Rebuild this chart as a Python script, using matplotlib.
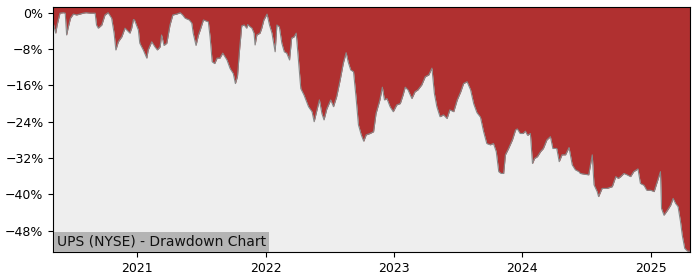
import matplotlib
matplotlib.use("Agg")
import matplotlib.pyplot as plt
import matplotlib.dates as mdates
from matplotlib.ticker import MultipleLocator, PercentFormatter
import pandas as pd

title = "UPS (NYSE) - Drawdown Chart"

dates = [
    "2020-05-07", "2020-05-14", "2020-05-18", "2020-05-26", "2020-06-05", "2020-06-10",
    "2020-06-14", "2020-06-18", "2020-06-25", "2020-07-03", "2020-07-12", "2020-07-22",
    "2020-07-31", "2020-08-08", "2020-08-19", "2020-09-03", "2020-09-07", "2020-09-12",
    "2020-09-22", "2020-10-01", "2020-10-10", "2020-10-20", "2020-10-27", "2020-11-01",
    "2020-11-08", "2020-11-18", "2020-11-27", "2020-12-02", "2020-12-11", "2020-12-16",
    "2020-12-21", "2020-12-24", "2021-01-04", "2021-01-08", "2021-01-18", "2021-01-28",
    "2021-02-01", "2021-02-11", "2021-02-20", "2021-02-27", "2021-03-07", "2021-03-11",
    "2021-03-18", "2021-03-26", "2021-04-04", "2021-04-12", "2021-04-23", "2021-05-03",
    "2021-05-10", "2021-05-17", "2021-05-29", "2021-06-05", "2021-06-09", "2021-06-17",
    "2021-06-24", "2021-06-29", "2021-07-08", "2021-07-22", "2021-07-27", "2021-08-02",
    "2021-08-09", "2021-08-16", "2021-08-24", "2021-09-01", "2021-09-13", "2021-09-22",
    "2021-10-01", "2021-10-07", "2021-10-13", "2021-10-18", "2021-10-25", "2021-11-01",
    "2021-11-08", "2021-11-11", "2021-11-18", "2021-11-23", "2021-11-29", "2021-12-02",
    "2021-12-07", "2021-12-16", "2021-12-21", "2021-12-27", "2022-01-05", "2022-01-12",
    "2022-01-19", "2022-01-24", "2022-01-28", "2022-02-02", "2022-02-09", "2022-02-16",
    "2022-02-23", "2022-03-02", "2022-03-10", "2022-03-16", "2022-03-23", "2022-03-29",
    "2022-04-04", "2022-04-11", "2022-04-20", "2022-05-03", "2022-05-13", "2022-05-19",
    "2022-05-27", "2022-06-03", "2022-06-10", "2022-06-16", "2022-06-24", "2022-07-05",
    "2022-07-13", "2022-07-22", "2022-08-01", "2022-08-10", "2022-08-18", "2022-08-24",
    "2022-08-31", "2022-09-08", "2022-09-15", "2022-09-22", "2022-09-30", "2022-10-07",
    "2022-10-14", "2022-10-25", "2022-11-04", "2022-11-11", "2022-11-22", "2022-11-29",
    "2022-12-05", "2022-12-12", "2022-12-21", "2022-12-30", "2023-01-09", "2023-01-19",
    "2023-01-27", "2023-02-02", "2023-02-10", "2023-02-21", "2023-03-02", "2023-03-10",
    "2023-03-21", "2023-03-31", "2023-04-10", "2023-04-19", "2023-04-26", "2023-05-03",
    "2023-05-12", "2023-05-22", "2023-06-01", "2023-06-09", "2023-06-20", "2023-06-30",
    "2023-07-10", "2023-07-18", "2023-07-28", "2023-08-07", "2023-08-16", "2023-08-25",
    "2023-09-04", "2023-09-13", "2023-09-22", "2023-10-02", "2023-10-11", "2023-10-19",
    "2023-10-26", "2023-11-02", "2023-11-09", "2023-11-14", "2023-11-23", "2023-12-04",
    "2023-12-13", "2023-12-18", "2023-12-26", "2024-01-03", "2024-01-10", "2024-01-16",
    "2024-01-24", "2024-01-30", "2024-02-05", "2024-02-13", "2024-02-22", "2024-03-01",
    "2024-03-11", "2024-03-21", "2024-03-28", "2024-04-08", "2024-04-15", "2024-04-23",
    "2024-05-03", "2024-05-13", "2024-05-22", "2024-05-31", "2024-06-10", "2024-06-14",
    "2024-06-28", "2024-07-08", "2024-07-18", "2024-07-23", "2024-08-01", "2024-08-05",
    "2024-08-15", "2024-08-29", "2024-09-13", "2024-09-23", "2024-09-30", "2024-10-07",
    "2024-10-16", "2024-10-25", "2024-11-04", "2024-11-13", "2024-11-25", "2024-12-02",
    "2024-12-12", "2024-12-20", "2024-12-31", "2025-01-10", "2025-01-28", "2025-01-31",
    "2025-02-07", "2025-02-17", "2025-02-26", "2025-03-05", "2025-03-12", "2025-03-19",
    "2025-03-26", "2025-03-31", "2025-04-07", "2025-04-15", "2025-04-22",
]

drawdown_pct = [
    -2.3, -4.5, -2.7, -0.1, 0.0, -0.1,
    -4.9, -3.4, -1.2, -0.3, -0.5, -0.3,
    -0.1, 0.0, -0.1, -0.1, -2.7, -3.4,
    -2.7, -0.5, 0.0, -1.2, -4.5, -8.2,
    -6.4, -5.3, -3.4, -3.8, -4.5, -3.4,
    -1.5, -1.6, -3.8, -6.7, -8.2, -10.0,
    -8.2, -6.4, -7.5, -8.2, -7.5, -4.9,
    -7.2, -6.7, -2.7, -0.5, -0.3, 0.0,
    -0.5, -1.2, -1.6, -2.3, -4.5, -7.2,
    -4.9, -3.8, -1.6, -2.0, -5.3, -10.8,
    -11.2, -10.0, -10.0, -8.9, -10.4, -12.3,
    -13.4, -15.6, -14.0, -8.9, -2.9, -2.7,
    -3.4, -2.6, -3.1, -3.4, -4.5, -7.1,
    -4.9, -4.5, -3.4, -1.6, -0.3, -2.7,
    -4.5, -6.7, -8.6, -2.7, -3.1, -6.7,
    -8.6, -8.9, -10.4, -5.6, -5.3, -4.5,
    -10.0, -16.7, -18.1, -20.7, -21.8, -24.0,
    -21.4, -19.2, -22.2, -23.6, -21.2, -19.2,
    -20.7, -18.5, -14.8, -11.1, -8.8, -10.9,
    -12.6, -13.0, -18.5, -24.7, -26.9, -28.3,
    -26.9, -26.6, -26.2, -22.2, -19.2, -16.4,
    -19.2, -18.9, -20.7, -21.8, -20.3, -20.0,
    -18.1, -16.4, -17.0, -18.9, -17.4, -17.0,
    -15.9, -14.1, -13.7, -12.2, -17.8, -20.7,
    -22.9, -22.5, -23.3, -21.4, -21.8, -19.2,
    -17.4, -15.6, -15.2, -17.0, -20.1, -22.0,
    -23.0, -26.2, -28.8, -29.1, -28.8, -30.6,
    -35.0, -35.4, -35.4, -31.3, -29.9, -28.0,
    -25.8, -25.6, -26.6, -26.6, -26.1, -27.0,
    -26.6, -33.2, -32.1, -31.7, -30.6, -29.9,
    -28.0, -27.3, -29.9, -29.9, -32.8, -31.3,
    -31.3, -29.7, -33.5, -34.6, -35.0, -35.4,
    -35.6, -35.7, -31.3, -37.9, -39.4, -40.5,
    -38.7, -38.7, -38.3, -36.1, -36.5, -36.1,
    -35.4, -35.7, -36.1, -35.0, -34.4, -37.6,
    -38.0, -39.1, -39.1, -39.4, -35.0, -43.1,
    -44.6, -43.5, -42.4, -40.9, -42.0, -42.7,
    -46.0, -49.0, -51.9, -52.5, -52.5,
]

y_limits = (-52.76, 1.2)

x = pd.to_datetime(dates)

fig = plt.figure(figsize=(7, 2.8), dpi=100)
ax = fig.add_axes([0.0761, 0.099, 0.9096, 0.875])
ax.set_facecolor("#eeeeee")

ax.fill_between(x, drawdown_pct, y_limits[1], color="#b03030", linewidth=0)
ax.plot(x, drawdown_pct, color="#888888", linewidth=0.8)

ax.set_xlim(x[0], x[-1])
ax.set_ylim(*y_limits)
ax.yaxis.set_major_locator(MultipleLocator(8))
ax.yaxis.set_major_formatter(PercentFormatter(decimals=0))
ax.xaxis.set_major_locator(mdates.YearLocator())
ax.xaxis.set_major_formatter(mdates.DateFormatter("%Y"))
ax.tick_params(labelsize=9)

ax.annotate(title, xy=(0, 0), xycoords="axes fraction", xytext=(2.5, 2.5),
            textcoords="offset points", ha="left", va="bottom", fontsize=10,
            color="#111111",
            bbox=dict(boxstyle="square,pad=0.2", facecolor="#b4b4b4", edgecolor="none"))

fig.savefig("out.png", dpi=100)
